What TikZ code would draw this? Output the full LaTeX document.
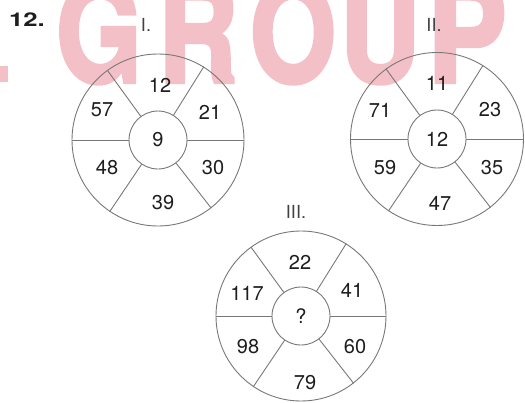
\documentclass[tikz,border=0pt]{standalone}
\usepackage{fontspec}
\setmainfont{TeX Gyre Heros}
\newfontfamily\wmfont[FakeBold=3]{texgyreheros-bold.otf}
\definecolor{wmpink}{RGB}{244,192,199}
\definecolor{ln}{RGB}{120,120,120}
\definecolor{tx}{RGB}{30,30,30}
\begin{document}
\begin{tikzpicture}[x=1pt,y=-1pt,
  outer/.style={circle,draw=ln,line width=0.9pt,inner sep=0,minimum size=#1},
  inner/.style={circle,draw=ln,line width=0.9pt,inner sep=0,minimum size=58pt,text=tx,font=\fontsize{20}{20}\selectfont},
  num/.style={text=tx,inner sep=0,font=\fontsize{20}{20}\selectfont},
  roman/.style={text=tx!85,inner sep=0,font=\fontsize{18}{18}\selectfont},
  wmletter/.style={anchor=base,inner sep=0,text=wmpink,font=\wmfont\fontsize{138}{138}\selectfont},
  divider/.style={draw=ln,line width=0.9pt}]
\useasboundingbox (0,0) rectangle (525,402);
\begin{scope}
\clip (0,0) rectangle (525,402);
% watermark
\node[wmletter] (wG) at (99,82) {\scalebox{0.8}[1]{G}};
\node[wmletter] (wR) at (198,82) {\scalebox{0.8}[1]{R}};
\node[wmletter] (wO) at (293,82) {\scalebox{0.8}[1]{O}};
\node[wmletter] (wU) at (380,82) {\scalebox{0.8}[1]{U}};
\node[wmletter] (wP) at (467,82) {\scalebox{0.86}[1]{P}};
\fill[wmpink] (0,66) rectangle (8,82);
\end{scope}
% heading
\node[text=tx,inner sep=0,font=\fontsize{19}{19}\selectfont\bfseries] (hd) at (27,20) {\scalebox{1.35}[1]{12.}};
\node[roman] (r1) at (146,25) {I.};
\node[roman] (r2) at (434,25) {II.};
\node[roman] (r3) at (296,212) {III.};
% wheel I
\node[outer=172pt] (o1) at (158,140) {};
\node[inner] (i1) at (158,140) {9};
% wheel II
\node[outer=173pt] (o2) at (437,139) {};
\node[inner] (i2) at (437,139) {12};
% wheel III
\node[outer=170pt] (o3) at (301,316) {};
\node[inner] (i3) at (301,316) {?};
\foreach \w in {1,2,3}{
  \foreach \a in {0,58,126,180,236,308}{
    \draw[divider] (i\w.\a) -- (o\w.\a);
  }
}
% labels I
\node[num] (a1) at (160,85) {12};
\node[num] (a2) at (210,112) {21};
\node[num] (a3) at (213,168) {30};
\node[num] (a4) at (163,203) {39};
\node[num] (a5) at (107,168) {48};
\node[num] (a6) at (102,110) {57};
% labels II
\node[num] (b1) at (437,83) {11};
\node[num] (b2) at (490,110) {23};
\node[num] (b3) at (492,168) {35};
\node[num] (b4) at (440,203) {47};
\node[num] (b5) at (385,168) {59};
\node[num] (b6) at (380,110) {71};
% labels III
\node[num] (c1) at (300,262) {22};
\node[num] (c2) at (352,290) {41};
\node[num] (c3) at (355,347) {60};
\node[num] (c4) at (305,383) {79};
\node[num] (c5) at (248,347) {98};
\node[num] (c6) at (247,293) {117};
\end{tikzpicture}
\end{document}
